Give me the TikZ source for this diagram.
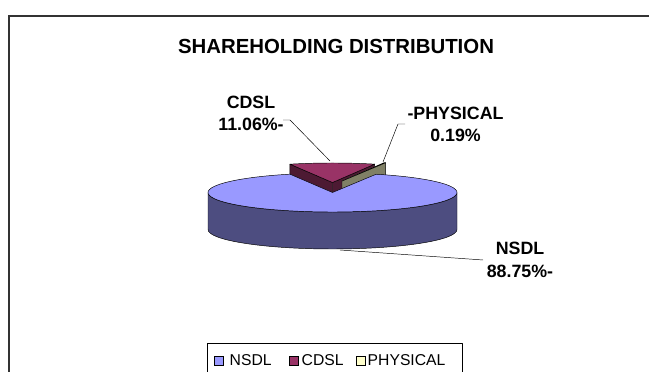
\documentclass[tikz,border=0pt]{standalone}
\usepackage{fontspec}
\setmainfont{Liberation Sans}
\usepackage{xcolor}
\usetikzlibrary{calc}
\definecolor{nsdltop}{RGB}{153,153,255}
\definecolor{nsdlside}{RGB}{77,77,128}
\definecolor{cdsltop}{RGB}{153,51,102}
\definecolor{cdslside}{RGB}{77,26,51}
\definecolor{phystop}{RGB}{255,255,204}
\definecolor{physside}{RGB}{128,128,102}
\definecolor{framegray}{RGB}{51,51,51}

\begin{document}
\begin{tikzpicture}[x=0.03cm,y=0.03cm,
	edge/.style={draw=black,line width=0.4pt,line join=round},
	lbl/.style={font=\fontsize{15.2}{19}\selectfont\bfseries,align=center,inner sep=0pt},
	leader/.style={draw=black,line width=0.4pt},
	swatch/.style={draw=black,line width=0.4pt,minimum size=0.27cm,inner sep=0pt},
	legtext/.style={font=\fontsize{13.4}{15}\selectfont,inner sep=0pt,anchor=west}]
			
			\useasboundingbox (0,0) rectangle (649,372);
			\clip (0,0) rectangle (649,372);
			
			% Frame
			\draw[framegray,line width=1.6pt] (9,-10) -- (9,356) -- (660,356);
			
			% Title
			\node[font=\fontsize{17.4}{20}\selectfont\bfseries] (title) at (336,326) {SHAREHOLDING DISTRIBUTION};
			
			% Centres of the pie and of the pulled-out slices
			\coordinate (c) at (332.5,179.5);
			\coordinate (ccdsl) at (332.5,189.5);
			\coordinate (cphys) at (342,191);
			
			% CDSL slice
			\draw[edge,fill=cdslside] (ccdsl) -- ++(110:124.5 and 19.5) -- ++(0,-37) -- ($(ccdsl)+(0,-37)$) -- cycle;
			\draw[edge,fill=cdslside] (ccdsl) -- ++(70.2:124.5 and 19.5) -- ++(0,-37) -- ($(ccdsl)+(0,-37)$) -- cycle;
			\draw[edge,fill=cdsltop] (ccdsl) -- ++(70.2:124.5 and 19.5) arc[start angle=70.2,end angle=110,x radius=124.5,y radius=19.5] -- cycle;
			
			% PHYSICAL slice
			\draw[edge,fill=physside] (cphys) -- ++(69.5:124.5 and 19.5) -- ++(0,-37) -- ($(cphys)+(0,-37)$) -- cycle;
			\draw[edge,fill=phystop] (cphys) -- ++(69.5:124.5 and 19.5) arc[start angle=69.5,end angle=70.2,x radius=124.5,y radius=19.5] -- cycle;
			
			% NSDL body
			\draw[edge,fill=nsdlside] ($(c)+(-124.5,0)$) arc[start angle=180,end angle=360,x radius=124.5,y radius=19.5] -- ++(0,-37) arc[start angle=360,end angle=180,x radius=124.5,y radius=19.5] -- cycle;
			\draw[edge,fill=nsdltop] (c) -- ++(110:124.5 and 19.5) arc[start angle=110,end angle=429.5,x radius=124.5,y radius=19.5] -- cycle;
			
			% Labels
			\node[lbl] (cdsl) at (251,258.5) {CDSL\\11.06\%-};
			\node[lbl] (phys) at (455.5,247.5) {-PHYSICAL\\0.19\%};
			\node[lbl] (nsdl) at (520,112) {NSDL\\88.75\%-};
			
			% Leader lines
			\coordinate (cdslend) at (283,252);
			\coordinate (cdsltip) at (330,211);
			\coordinate (physend) at (405,248);
			\coordinate (phystip) at (383,210);
			\coordinate (nsdltip) at (340,122);
			\draw[leader] (cdslend) -- ++(7,0) -- (cdsltip);
			\draw[leader] (physend) -- ++(-7,0) -- (phystip);
			\draw[leader] (nsdltip) -- ([xshift=-3]nsdl.west);
			
			% Legend
			\draw[edge] (207,29) rectangle (462,-10);
			\node[swatch,fill=nsdltop] (keynsdl) at (218.5,11) {};
			\node[legtext] (txtnsdl) at (229.5,12) {NSDL};
			\node[swatch,fill=cdsltop] (keycdsl) at (294,11) {};
			\node[legtext] (txtcdsl) at (301.5,12) {CDSL};
			\node[swatch,fill=phystop] (keyphys) at (361,11) {};
			\node[legtext] (txtphys) at (367.5,12) {PHYSICAL};
			
		\end{tikzpicture}
\end{document}
